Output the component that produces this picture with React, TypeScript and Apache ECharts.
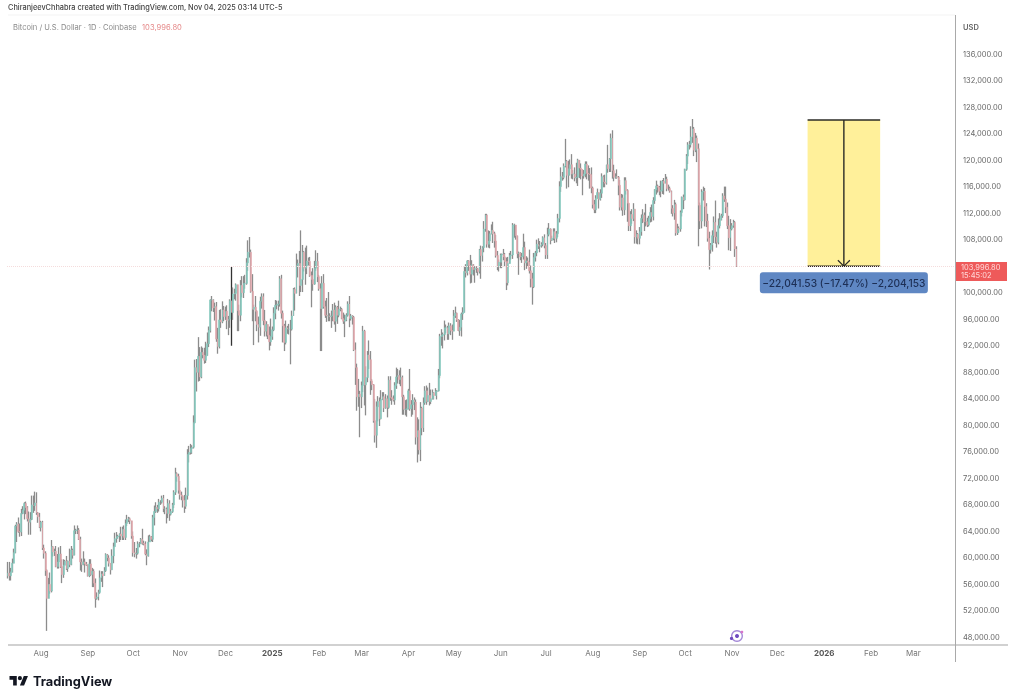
import React, { useEffect, useRef } from "react";
import * as echarts from "echarts";

const FIRST_DAY = "2024-07-10";
const TOTAL_DAYS = 627;
const FIRST_OPEN = 57.3;

// daily values in thousands of USD, one inner list per calendar month (Jul 2024 .. Nov 2025)
const closesByMonth = [
  [57.7,57.3,57.9,59.2,60.8,64.8,65.1,64.0,63.9,66.7,67.2,68.2,67.6,65.9,65.4,65.8,68.0,67.9,68.3,66.8,66.2,64.6],
  [65.4,61.5,60.7,58.1,53.9,56.0,55.0,61.7,60.9,61.0,58.7,59.4,60.6,58.7,57.5,58.9,59.5,58.4,59.5,59.0,61.2,60.4,64.1,64.2,64.2,62.8,59.4,59.0,59.4,59.1,58.9],
  [57.3,59.1,57.5,58.0,56.2,53.9,54.1,54.8,57.0,57.6,57.3,58.1,60.5,60.0,59.2,58.2,60.3,61.7,62.9,63.2,63.3,63.6,63.3,64.3,63.1,65.2,65.8,65.9,65.6,63.3],
  [60.8,60.6,60.7,62.1,62.1,62.8,62.2,62.1,60.6,60.3,62.4,63.2,62.8,66.1,67.0,67.6,67.4,68.4,68.4,69.0,67.4,67.4,66.7,68.2,66.6,67.0,68.0,69.9,72.7,72.3,70.2],
  [69.5,69.3,68.7,67.8,69.4,75.6,75.9,76.5,76.7,80.4,88.7,88.0,90.4,87.3,91.0,90.6,89.8,90.5,92.3,94.3,98.9,98.9,97.7,97.9,93.0,91.9,95.9,95.6,97.4,96.4],
  [97.2,95.8,96.0,98.8,97.0,99.8,99.9,101.2,97.3,96.6,101.1,100.0,101.4,101.4,104.5,106.1,106.1,100.2,97.5,97.8,97.2,95.2,94.8,98.7,99.4,95.8,94.2,95.2,93.6,92.6,93.4],
  [94.4,96.9,98.1,98.2,98.3,102.1,96.9,95.0,92.5,94.7,94.5,94.5,94.5,96.5,100.5,99.9,104.1,104.4,101.1,102.0,106.1,103.7,103.9,104.8,104.7,102.6,102.0,101.3,103.7,104.7,102.4],
  [100.6,97.6,101.4,97.9,96.6,96.5,96.5,96.4,96.5,97.4,95.7,97.8,96.6,97.5,97.5,96.1,95.7,95.9,96.6,98.3,96.1,96.5,96.3,91.4,88.7,84.3,84.7,84.3],
  [86.0,94.2,86.1,87.2,90.6,89.9,86.7,86.1,80.7,78.5,82.8,83.6,81.0,83.9,84.3,82.6,84.0,82.7,86.8,84.2,84.0,83.8,86.0,87.3,87.5,86.9,87.2,84.3,82.4,82.4,82.5],
  [85.2,82.5,83.1,83.8,83.5,78.2,79.2,76.3,82.6,79.6,83.4,85.2,83.6,84.5,83.6,84.0,84.9,84.5,85.1,85.2,87.5,93.4,93.6,93.7,94.7,94.7,93.8,95.0,94.3,94.2],
  [96.5,96.9,95.9,94.3,94.8,96.8,97.0,103.2,103.0,104.8,104.1,102.8,104.2,103.5,103.7,103.6,103.2,106.5,105.6,106.8,109.6,111.7,107.3,107.8,108.9,109.4,108.9,107.8,105.6,103.9,104.6],
  [105.7,105.8,105.4,104.7,101.5,104.4,105.6,105.7,110.2,110.2,108.6,105.9,106.0,105.4,105.5,106.8,104.5,104.8,104.6,103.3,102.1,100.9,105.3,106.0,107.3,107.0,107.1,107.3,108.3,107.1],
  [105.7,108.8,109.6,107.9,108.2,109.2,108.2,108.9,111.2,116.0,117.5,117.4,119.1,119.8,117.7,118.7,119.3,117.9,117.9,117.3,117.4,120.0,118.8,118.6,117.6,117.9,119.4,118.0,117.9,117.8,115.8],
  [113.3,112.5,114.2,115.1,114.1,115.0,117.5,116.7,116.5,119.3,118.7,120.2,123.3,118.4,117.4,117.5,117.4,116.2,112.9,114.3,112.5,116.9,115.4,113.5,110.1,111.8,111.2,112.6,108.4,108.8,108.2],
  [109.2,111.2,111.7,110.7,110.7,110.2,111.2,112.1,111.5,113.9,115.5,116.1,115.9,115.3,115.4,116.8,116.5,117.1,115.7,115.7,115.3,112.7,112.0,113.3,109.0,109.7,109.6,112.1,114.4,114.0],
  [118.6,120.6,122.3,122.4,123.5,124.7,121.5,123.3,121.7,113.2,110.8,115.2,115.3,113.0,110.8,108.2,106.5,107.2,108.6,110.6,108.4,107.6,110.1,111.0,111.6,114.6,114.1,112.9,110.1,108.3,109.6],
  [110.1,110.6,106.6,103.9968],
];
const highsByMonth = [
  [59.4,59.4,58.5,59.9,61.4,65.0,65.4,66.1,65.2,67.4,67.8,68.4,68.5,67.8,67.0,66.9,69.4,69.4,70.0,69.9,66.9,66.8],
  [65.6,65.6,62.0,61.0,58.3,57.0,57.8,62.7,61.8,61.4,61.8,60.6,61.6,61.8,59.8,59.8,59.7,60.3,59.6,61.4,61.8,61.4,64.9,64.4,64.9,64.5,63.2,59.9,61.0,59.9,59.4],
  [59.0,59.8,59.8,58.5,58.3,56.9,54.8,55.2,58.1,58.0,58.0,58.6,60.7,60.6,60.4,59.2,61.3,62.3,63.8,63.9,63.5,63.7,64.7,64.7,64.9,65.8,66.5,66.2,66.1,65.6],
  [64.0,62.4,61.5,62.5,62.4,63.0,64.4,62.6,62.5,61.3,63.4,63.5,63.3,66.5,67.9,68.4,68.0,68.9,68.7,69.4,69.5,67.8,67.6,68.9,68.7,67.4,68.3,70.2,73.6,72.9,72.7],
  [71.6,70.0,69.4,69.5,70.6,76.4,76.9,77.2,77.0,81.5,89.9,90.0,93.3,91.8,91.9,91.7,91.7,92.6,94.0,94.9,99.0,99.5,99.0,98.5,98.6,94.7,97.4,97.5,98.7,98.0],
  [97.9,98.1,96.5,99.0,103.9,100.8,100.6,101.4,101.2,98.2,101.9,102.5,102.5,102.7,105.2,107.9,108.4,106.5,102.8,98.2,99.5,97.4,96.4,99.4,99.9,99.9,97.4,95.7,95.2,94.9,96.1],
  [94.9,97.8,98.9,98.8,98.8,102.5,102.7,97.3,95.3,95.8,95.0,95.3,95.9,97.3,100.7,100.8,105.9,105.0,106.3,109.4,107.2,106.3,106.8,107.1,105.3,105.4,103.2,103.7,104.8,106.4,106.0],
  [102.7,101.4,102.5,102.8,98.8,99.2,100.1,96.9,97.3,98.3,98.5,98.1,98.0,98.8,97.9,97.7,97.0,96.7,96.9,98.7,99.5,96.8,96.6,96.5,92.5,89.3,87.0,85.2],
  [86.6,95.0,94.4,88.9,91.2,92.8,91.2,87.0,86.2,84.0,83.6,84.4,84.2,85.3,85.0,85.0,84.7,84.5,87.4,87.4,85.3,84.5,86.5,88.7,88.5,88.3,88.7,87.5,84.6,83.8,83.9],
  [85.5,88.5,83.8,84.7,84.2,83.9,81.2,80.9,83.5,82.8,84.2,85.9,86.0,85.7,86.4,85.4,85.4,85.0,85.6,85.3,88.5,93.8,94.5,94.0,95.8,95.2,95.0,95.5,95.4,95.2],
  [97.4,97.9,97.0,96.0,95.9,97.0,97.8,103.9,104.3,104.9,104.9,105.7,104.9,104.3,104.0,104.0,103.7,106.6,107.1,107.0,110.8,111.9,111.9,109.4,109.3,110.3,110.7,109.2,108.7,106.3,105.0],
  [105.9,105.9,106.6,106.0,105.3,105.4,106.0,106.3,110.5,110.4,110.2,108.5,106.2,106.1,106.0,108.9,107.7,105.5,105.3,106.5,104.1,103.0,106.0,106.3,108.0,108.2,107.8,107.6,108.5,108.8],
  [107.5,109.8,110.5,109.7,108.6,109.7,109.7,109.3,111.9,116.8,118.9,118.2,119.5,123.2,120.0,119.9,120.1,120.9,118.5,118.9,119.6,120.2,120.0,119.5,118.5,118.5,119.8,119.8,119.2,118.8,118.9],
  [116.0,114.0,114.7,115.7,115.1,115.6,118.0,117.7,117.8,119.3,122.3,120.3,124.0,124.5,119.3,118.0,118.6,117.6,117.0,114.9,114.8,117.4,117.4,115.6,113.5,112.3,112.6,113.5,112.6,109.4,109.0],
  [109.9,111.8,112.6,112.1,113.4,111.3,111.6,112.9,113.3,114.4,115.6,116.9,116.3,116.1,116.9,117.0,117.3,117.9,117.5,116.3,116.0,115.4,113.2,114.0,113.6,110.4,110.0,112.4,114.5,114.8],
  [118.7,120.9,122.7,122.9,125.1,126.2,125.0,124.1,123.7,122.5,113.6,115.6,116.0,115.8,113.5,111.9,109.2,107.5,109.4,111.5,113.9,109.2,111.2,112.0,111.9,115.0,116.0,116.0,113.6,111.6,111.1],
  [110.5,111.0,110.8,107.0],
];
const lowsByMonth = [
  [56.9,56.6,56.6,57.8,59.2,60.7,62.4,63.8,63.2,63.3,66.6,65.8,66.6,65.5,63.5,63.5,65.7,66.8,67.1,66.5,65.3,64.5],
  [64.0,61.2,59.9,57.3,49.0,53.9,54.6,54.8,60.2,60.3,58.6,58.4,58.4,58.5,56.2,57.0,58.9,58.2,57.9,58.6,58.9,59.9,60.4,63.6,63.6,62.7,58.1,57.9,58.9,57.8,58.8],
  [57.2,57.1,57.3,55.6,55.6,52.5,53.7,53.6,54.6,56.4,55.6,57.3,57.9,59.5,58.7,57.5,58.3,59.2,61.7,62.3,62.9,62.4,62.7,62.7,62.7,62.7,64.8,65.4,65.1,62.9],
  [60.2,60.1,59.9,60.5,61.6,62.1,62.0,61.9,60.4,58.9,60.2,62.4,62.5,62.4,64.9,66.8,66.8,67.0,68.0,68.2,66.9,66.6,65.2,66.0,65.6,66.4,66.8,67.5,69.5,71.5,69.7],
  [68.8,68.7,67.6,66.8,67.4,68.8,74.4,75.6,75.7,76.5,80.3,85.1,86.6,86.7,87.1,90.1,89.3,89.4,91.5,91.8,94.0,97.2,97.1,95.8,92.6,90.8,91.6,94.7,95.4,95.7],
  [95.9,94.5,93.6,94.7,92.0,95.9,99.0,98.8,94.2,94.2,95.7,99.3,99.2,100.6,101.2,103.3,105.3,100.0,95.7,92.1,95.7,94.2,92.5,93.5,97.6,95.1,93.4,93.4,93.0,91.3,92.0],
  [92.9,94.2,96.0,97.5,97.3,97.9,96.1,92.5,91.2,92.2,93.8,93.7,89.2,94.3,96.5,97.3,99.9,102.3,99.5,100.1,100.1,103.2,101.2,102.8,104.1,102.4,97.8,100.3,101.2,103.3,101.6],
  [100.3,91.2,91.2,97.6,96.2,95.6,95.7,95.7,94.7,95.7,95.2,94.1,95.3,96.3,97.2,96.0,95.3,93.3,95.7,96.4,94.8,95.8,95.2,91.2,86.1,82.2,82.8,78.2],
  [82.6,85.0,83.0,81.5,86.5,88.5,84.6,85.3,80.4,77.4,76.6,80.6,79.9,80.9,83.8,82.0,82.5,81.2,82.5,83.7,83.1,83.6,83.1,85.5,86.3,86.2,85.9,81.6,81.6,81.5,81.3],
  [82.4,82.2,81.3,81.6,82.3,77.1,74.4,75.6,74.6,78.5,79.0,83.1,83.1,83.5,83.0,83.2,83.9,83.9,84.6,83.9,85.1,87.1,92.0,91.6,92.8,93.9,92.9,92.9,93.6,92.9],
  [94.2,96.2,95.6,94.2,93.5,93.4,95.9,97.0,102.3,102.6,103.3,101.4,101.5,102.6,101.5,103.0,102.6,102.9,102.1,104.7,106.1,109.2,106.8,106.8,106.7,108.8,107.5,106.8,105.3,103.4,103.2],
  [103.7,103.7,104.9,104.0,100.4,101.1,104.7,105.0,105.1,108.3,108.0,105.2,102.7,104.9,104.5,105.0,103.4,103.6,103.9,102.9,100.8,98.2,100.7,104.7,105.5,106.6,106.1,106.8,107.0,106.7],
  [105.1,105.1,108.5,107.3,107.8,107.9,107.5,107.6,108.4,110.6,115.2,116.9,117.1,118.9,115.7,115.9,117.7,117.2,117.1,116.8,116.5,116.1,117.3,117.1,114.7,117.2,117.4,117.1,116.9,115.7,115.0],
  [112.7,112.0,112.0,114.2,112.7,113.9,114.3,115.9,115.9,116.3,118.1,118.2,118.2,117.2,116.8,117.2,117.2,114.7,112.4,112.4,111.6,111.7,114.8,110.7,109.3,109.3,110.4,110.8,107.4,107.4,107.3],
  [107.3,108.6,110.5,109.3,110.0,109.9,110.0,110.6,110.7,110.9,113.4,114.8,115.1,114.7,114.4,114.9,114.8,116.7,115.3,115.4,115.1,111.9,111.5,111.0,108.6,108.7,109.0,109.2,111.5,112.6],
  [113.9,118.4,119.4,121.6,121.9,122.6,120.6,121.2,119.7,107.0,109.6,109.7,113.9,110.0,109.9,107.7,103.5,105.9,106.2,107.5,107.4,106.8,107.3,109.7,110.9,111.3,113.7,112.0,109.6,106.4,106.3],
  [109.4,109.8,105.4,103.9],
];

const LAST_PRICE = 103996.8;
const HIDDEN_TICK = 104000; // covered by the price tag in the reference
const MEASURE_TOP = 126038.33;
const MEASURE_START_INDEX = 529;
const MEASURE_END_INDEX = 577;
const DARK_WICK_DAYS = ["2024-12-05"];
const MEASURE_TEXT = "\u221222,041.53 (\u221217.47%) \u22122,204,153";
const HEADER_TEXT = "ChiranjeevChhabra created with TradingView.com, Nov 04, 2025 03:14 UTC-5";
const SYMBOL_TEXT = "Bitcoin / U.S. Dollar \u00b7 1D \u00b7 Coinbase";
const MONTHS = ["Jan", "Feb", "Mar", "Apr", "May", "Jun", "Jul", "Aug", "Sep", "Oct", "Nov", "Dec"];

const TEAL = "#86cbc0";
const PINK = "#e4a9ae";
const WICK = "#8c8c8c";
const FONT = "Inter";

const TV_LOGO = "M14 22H7V11H0V4h14v18zM28 22h-8l7.5-18h8L28 22zM24 8a4 4 0 1 1-8 0a4 4 0 1 1 8 0z";
echarts.graphic.registerShape("tvlogo", echarts.graphic.extendPath(TV_LOGO, {}));

function buildCategories(): string[] {
  const out: string[] = [];
  const start = new Date(FIRST_DAY + "T00:00:00Z").getTime();
  for (let i = 0; i < TOTAL_DAYS; i++) {
    out.push(new Date(start + i * 86400000).toISOString().slice(0, 10));
  }
  return out;
}

export default function App() {
  const ref = useRef<HTMLDivElement>(null);
  useEffect(() => {
    const chart = echarts.init(ref.current!, undefined, { renderer: "svg" });
    const categories = buildCategories();
    const closes = closesByMonth.flat();
    const highs = highsByMonth.flat();
    const lows = lowsByMonth.flat();
    const wicks: any[] = [];
    const bodies: number[][] = [];
    closes.forEach((c, i) => {
      const o = i === 0 ? FIRST_OPEN : closes[i - 1];
      const h = Math.max(highs[i], o, c);
      const l = Math.min(lows[i], o, c);
      const value = [o * 1000, c * 1000, l * 1000, h * 1000];
      wicks.push(
        DARK_WICK_DAYS.includes(categories[i])
          ? { value, itemStyle: { color: "#333", color0: "#333", borderColor: "#333", borderColor0: "#333" } }
          : value
      );
      bodies.push([o * 1000, c * 1000, Math.min(o, c) * 1000, Math.max(o, c) * 1000]);
    });

    chart.setOption({
      animation: false,
      backgroundColor: "#ffffff",
      grid: { left: 7, right: 69, top: 54, bottom: 61.5 },
      xAxis: {
        type: "category",
        data: categories,
        boundaryGap: true,
        offset: 7.5,
        axisLine: { show: false },
        axisTick: { show: false },
        splitLine: { show: false },
        axisLabel: {
          color: "#777",
          fontFamily: FONT,
          fontSize: 8,
          margin: 4,
          hideOverlap: false,
          interval: (_i: number, v: string) => v.endsWith("-01"),
          formatter: (v: string) => {
            const month = Number(v.slice(5, 7));
            return month === 1 ? "{y|" + v.slice(0, 4) + "}" : MONTHS[month - 1];
          },
          rich: { y: { fontWeight: 700, fontFamily: FONT, fontSize: 8, color: "#555" } },
        },
      },
      yAxis: {
        type: "value",
        position: "right",
        min: 48000,
        max: 136000,
        interval: 4000,
        scale: true,
        axisLine: { show: false },
        axisTick: { show: false },
        splitLine: { show: false },
        axisLabel: {
          color: "#666",
          fontFamily: FONT,
          fontSize: 7.5,
          margin: 8,
          formatter: (v: number) =>
            v === HIDDEN_TICK ? "" : v.toLocaleString("en-US", { minimumFractionDigits: 2, maximumFractionDigits: 2 }),
        },
      },
      series: [
        {
          type: "custom",
          coordinateSystem: "cartesian2d",
          z: 1,
          clip: false,
          silent: true,
          data: [[MEASURE_START_INDEX, MEASURE_TOP, MEASURE_END_INDEX, LAST_PRICE]],
          encode: { x: [0, 2], y: [1, 3] },
          renderItem: (_p: any, api: any) => {
            const a = api.coord([api.value(0), api.value(1)]);
            const b = api.coord([api.value(2), api.value(3)]);
            const cx = (a[0] + b[0]) / 2;
            const line = { stroke: "#2b2b26", lineWidth: 1.4 };
            return {
              type: "group",
              children: [
                { type: "rect", shape: { x: a[0], y: a[1], width: b[0] - a[0], height: b[1] - a[1] }, style: { fill: "#fff09a" } },
                { type: "line", shape: { x1: a[0], y1: a[1], x2: b[0], y2: a[1] }, style: line },
                { type: "line", shape: { x1: a[0], y1: b[1], x2: b[0], y2: b[1] }, style: line },
                { type: "line", shape: { x1: cx, y1: a[1], x2: cx, y2: b[1] }, style: line },
                { type: "polyline", shape: { points: [[cx - 6, b[1] - 6], [cx, b[1]], [cx + 6, b[1] - 6]] }, style: { stroke: "#2b2b26", lineWidth: 1.2, fill: "none" } },
                { type: "rect", shape: { x: cx - 84, y: b[1] + 6, width: 168, height: 21, r: 3 }, style: { fill: "#5f87c3" } },
                { type: "text", x: cx, y: b[1] + 16.5, style: { text: MEASURE_TEXT, fill: "#1d2f55", font: "500 10.2px " + FONT, textAlign: "center", textVerticalAlign: "middle" } },
              ],
            };
          },
        },
        {
          type: "candlestick",
          z: 2,
          silent: true,
          barWidth: 1,
          data: wicks,
          itemStyle: { color: WICK, color0: WICK, borderColor: WICK, borderColor0: WICK, borderWidth: 1.3 },
          markLine: {
            silent: true,
            symbol: "none",
            label: { show: false },
            data: [{ yAxis: LAST_PRICE }],
            lineStyle: { color: "#f5dcdc", type: "dotted", width: 1 },
          },
        },
        {
          type: "candlestick",
          z: 3,
          silent: true,
          barWidth: 1.4,
          data: bodies,
          itemStyle: { color: TEAL, color0: PINK, borderColor: TEAL, borderColor0: PINK, borderWidth: 0.6 },
        },
      ],
      graphic: [
        { type: "line", silent: true, shape: { x1: 8, y1: 15, x2: 955, y2: 15 }, style: { stroke: "#f3f3f3", lineWidth: 1 } },
        { type: "line", silent: true, shape: { x1: 8, y1: 645, x2: 1008, y2: 645 }, style: { stroke: "#a3a3a3", lineWidth: 1 } },
        { type: "line", silent: true, shape: { x1: 955.5, y1: 15, x2: 955.5, y2: 662 }, style: { stroke: "#a9a9a9", lineWidth: 1 } },
        { type: "text", x: 8, y: 7, style: { text: HEADER_TEXT, fill: "#444", font: "500 7.35px " + FONT, textVerticalAlign: "middle" } },
        { type: "text", x: 13, y: 27, style: { text: SYMBOL_TEXT, fill: "#8a8a8a", font: "7.55px " + FONT, textVerticalAlign: "middle" } },
        { type: "text", x: 142, y: 27, style: { text: "103,996.80", fill: "#e58a8a", font: "7.6px " + FONT, textVerticalAlign: "middle" } },
        { type: "text", x: 963, y: 27, style: { text: "USD", fill: "#666", font: "600 7.5px " + FONT, textVerticalAlign: "middle" } },
        { type: "rect", silent: true, shape: { x: 956, y: 262, width: 51, height: 19 }, style: { fill: "#ee5a5a" } },
        { type: "text", x: 961, y: 267, style: { text: "103,996.80", fill: "#ffd9d9", font: "7.5px " + FONT, textVerticalAlign: "middle" } },
        { type: "text", x: 961, y: 275.5, style: { text: "15:45:02", fill: "#ffd9d9", font: "7.5px " + FONT, textVerticalAlign: "middle" } },
        { type: "tvlogo", x: 9.5, y: 674, scaleX: 0.52, scaleY: 0.52, style: { fill: "#131722" } },
        { type: "text", x: 33, y: 681, style: { text: "TradingView", fill: "#131722", font: "700 12.8px " + FONT, textVerticalAlign: "middle" } },
        { type: "ring", silent: true, shape: { cx: 737, cy: 636, r: 6, r0: 4.6 }, style: { fill: "#a58ad8" } },
        { type: "circle", silent: true, shape: { cx: 737, cy: 636, r: 2 }, style: { fill: "#6f4bc0" } },
        { type: "circle", silent: true, shape: { cx: 731.5, cy: 638.5, r: 1.6 }, style: { fill: "#6f4bc0" } },
        { type: "circle", silent: true, shape: { cx: 742, cy: 632, r: 1.3 }, style: { fill: "#d874c9" } },
      ],
    });
    return () => chart.dispose();
  }, []);
  return (
    <div
      ref={ref}
      style={{ position: "fixed", left: 0, top: 0, width: 1024, height: 699, filter: "blur(0.7px)" }}
    />
  );
}
